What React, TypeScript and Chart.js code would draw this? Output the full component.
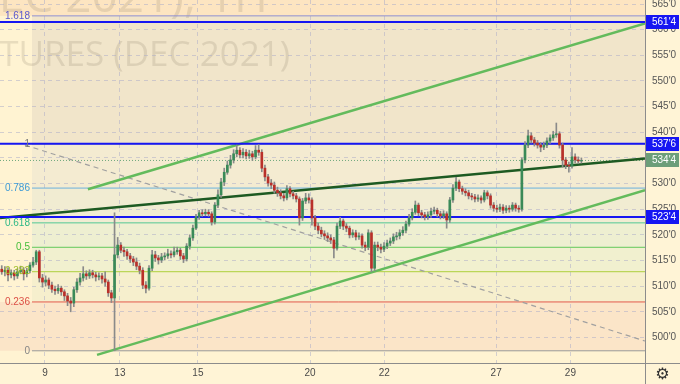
import React, { useEffect, useRef } from "react";
import { Chart, registerables } from "chart.js";

Chart.register(...registerables);

// ---- Candles (1H bars, CBOT corn Dec 2021) ----
const opens = [
  513.3, 512.8, 513.1, 512.2, 512.6, 512.0, 512.8, 513.1, 512.4, 513.0,
  514.1, 514.7, 516.7, 511.6, 510.8, 511.2, 510.2, 509.4, 509.1, 509.6,
  508.9, 508.1, 507.1, 506.7, 509.3, 510.8, 511.6, 512.4, 512.0, 512.6,
  512.2, 511.8, 512.0, 511.4, 510.8, 508.7, 507.7, 516.1, 518.0, 517.0,
  516.7, 515.9, 515.3, 514.7, 513.9, 513.1, 510.2, 509.6, 513.5, 516.1,
  515.5, 515.1, 515.7, 515.9, 516.3, 516.1, 516.7, 517.0, 515.9, 515.3,
  517.8, 519.4, 521.3, 523.5, 524.3, 524.1, 524.4, 524.1, 522.5, 525.8,
  527.8, 530.3, 532.2, 533.6, 534.6, 535.8, 536.5, 535.6, 536.1, 535.4,
  535.8, 535.2, 536.5, 536.1, 533.0, 531.3, 530.1, 529.7, 528.7, 528.2,
  527.6, 527.2, 529.0, 528.0, 527.6, 527.0, 523.3, 526.6, 527.2, 526.8,
  523.3, 521.7, 520.9, 520.2, 519.8, 519.4, 519.0, 517.4, 521.7, 522.7,
  521.7, 521.3, 520.0, 520.4, 519.6, 519.8, 518.0, 517.6, 520.4, 513.5,
  518.0, 517.6, 517.2, 517.8, 518.4, 518.8, 519.6, 519.8, 520.4, 520.9,
  522.1, 523.3, 524.4, 525.8, 524.3, 523.9, 523.5, 523.9, 524.6, 524.8,
  524.1, 523.7, 524.1, 522.9, 526.8, 529.1, 530.3, 529.0, 528.5, 528.2,
  527.6, 527.4, 527.0, 527.2, 526.8, 528.2, 527.6, 525.8, 525.2, 525.0,
  525.4, 524.8, 525.2, 525.0, 525.8, 525.2, 525.0, 534.6, 537.5, 539.3,
  538.5, 537.9, 537.5, 537.1, 537.5, 538.3, 538.9, 539.5, 539.7, 537.5,
  534.6, 533.6, 533.4, 535.2, 534.6, 534.4,
];
const closes = [
  512.8, 513.1, 512.2, 512.6, 512.0, 512.8, 513.1, 512.4, 513.0, 514.1,
  514.7, 516.7, 511.6, 510.8, 511.2, 510.2, 509.4, 509.1, 509.6, 508.9,
  508.1, 507.1, 506.7, 509.3, 510.8, 511.6, 512.4, 512.0, 512.6, 512.2,
  511.8, 512.0, 511.4, 510.8, 508.7, 507.7, 516.1, 518.0, 517.0, 516.7,
  515.9, 515.3, 514.7, 513.9, 513.1, 510.2, 509.6, 513.5, 516.1, 515.5,
  515.1, 515.7, 515.9, 516.3, 516.1, 516.7, 517.0, 515.9, 515.3, 517.8,
  519.4, 521.3, 523.5, 524.3, 524.1, 524.4, 524.1, 522.5, 525.8, 527.8,
  530.3, 532.2, 533.6, 534.6, 535.8, 536.5, 535.6, 536.1, 535.4, 535.8,
  535.2, 536.5, 536.1, 533.0, 531.3, 530.1, 529.7, 528.7, 528.2, 527.6,
  527.2, 529.0, 528.0, 527.6, 527.0, 523.3, 526.6, 527.2, 526.8, 523.3,
  521.7, 520.9, 520.2, 519.8, 519.4, 519.0, 517.4, 521.7, 522.7, 521.7,
  521.3, 520.0, 520.4, 519.6, 519.8, 518.0, 517.6, 520.4, 513.5, 518.0,
  517.6, 517.2, 517.8, 518.4, 518.8, 519.6, 519.8, 520.4, 520.9, 522.1,
  523.3, 524.4, 525.8, 524.3, 523.9, 523.5, 523.9, 524.6, 524.8, 524.1,
  523.7, 524.1, 522.9, 526.8, 529.1, 530.3, 529.0, 528.5, 528.2, 527.6,
  527.4, 527.0, 527.2, 526.8, 528.2, 527.6, 525.8, 525.2, 525.0, 525.4,
  524.8, 525.2, 525.0, 525.8, 525.2, 525.0, 534.6, 537.5, 539.3, 538.5,
  537.9, 537.5, 537.1, 537.5, 538.3, 538.9, 539.5, 539.7, 537.5, 534.6,
  533.6, 533.4, 535.2, 534.6, 534.4, 534.5,
];
const highs = [
  514.0, 513.8, 513.6, 513.2, 513.1, 513.4, 513.9, 513.6, 513.5, 514.6,
  515.6, 517.0, 517.0, 512.3, 512.0, 511.6, 510.8, 510.0, 510.3, 510.0,
  509.3, 508.6, 507.8, 509.8, 511.5, 512.5, 513.8, 513.0, 513.2, 513.1,
  512.7, 512.6, 512.5, 512.8, 511.2, 509.2, 524.3, 519.5, 518.5, 517.6,
  517.2, 516.4, 515.8, 515.5, 514.5, 513.6, 510.9, 514.0, 517.0, 516.8,
  516.0, 516.4, 516.5, 517.2, 516.9, 517.6, 517.6, 517.4, 516.4, 518.3,
  520.0, 521.9, 524.0, 524.8, 524.9, 525.0, 524.9, 524.5, 526.3, 528.8,
  531.0, 533.0, 534.4, 535.5, 536.6, 537.5, 537.0, 536.8, 536.6, 536.5,
  536.3, 537.4, 537.6, 536.6, 533.6, 531.8, 530.8, 530.3, 529.3, 528.8,
  528.1, 529.6, 529.4, 528.5, 528.1, 527.4, 527.1, 528.1, 528.0, 527.2,
  523.8, 522.3, 521.5, 520.8, 520.4, 520.0, 519.5, 522.3, 523.4, 523.1,
  522.2, 521.7, 521.0, 520.9, 520.4, 520.2, 518.6, 521.0, 520.8, 518.6,
  518.6, 518.2, 518.5, 519.0, 519.4, 520.2, 520.5, 521.0, 521.6, 522.7,
  524.0, 525.1, 526.6, 526.2, 524.8, 524.4, 524.5, 525.2, 525.4, 525.2,
  524.6, 524.7, 524.5, 527.3, 529.8, 531.2, 530.7, 529.5, 529.0, 528.7,
  528.1, 527.9, 527.8, 527.6, 528.7, 528.6, 528.0, 526.3, 525.8, 526.0,
  525.9, 525.7, 525.7, 526.3, 526.2, 525.7, 535.0, 538.2, 540.4, 539.9,
  539.0, 538.4, 538.0, 538.1, 538.9, 539.5, 540.2, 541.8, 540.1, 537.9,
  535.1, 534.2, 537.0, 535.8, 535.2, 535.0,
];
const lows = [
  512.3, 512.0, 511.0, 511.6, 511.2, 511.5, 512.4, 511.2, 511.8, 512.6,
  513.7, 514.2, 510.8, 509.8, 510.0, 509.5, 508.8, 508.4, 508.6, 508.2,
  507.2, 506.2, 505.0, 506.0, 508.8, 510.2, 511.0, 511.3, 511.5, 511.6,
  511.0, 511.2, 510.6, 510.0, 508.0, 506.8, 497.4, 515.5, 516.5, 515.8,
  515.2, 514.6, 514.0, 513.2, 512.4, 509.5, 508.7, 509.2, 513.0, 514.8,
  514.3, 514.6, 515.1, 515.4, 515.5, 515.7, 516.2, 515.2, 514.6, 514.9,
  517.2, 518.9, 521.0, 523.0, 523.6, 523.7, 523.6, 521.9, 522.1, 525.3,
  527.3, 529.6, 531.8, 533.0, 534.0, 535.2, 535.0, 535.0, 534.8, 534.9,
  534.5, 534.8, 535.5, 532.3, 530.5, 529.5, 529.0, 528.1, 527.5, 527.0,
  526.6, 526.8, 527.4, 527.0, 526.4, 521.9, 522.8, 526.1, 526.2, 521.9,
  521.0, 520.2, 519.6, 519.1, 518.7, 518.3, 515.5, 517.0, 521.2, 521.0,
  520.6, 519.4, 519.5, 519.0, 519.1, 517.4, 516.9, 517.1, 512.8, 513.0,
  516.9, 516.5, 516.7, 517.3, 517.9, 518.3, 519.0, 519.2, 519.9, 520.4,
  521.7, 522.9, 524.0, 523.7, 523.3, 522.9, 523.0, 523.4, 524.1, 523.5,
  523.1, 523.2, 521.3, 522.4, 526.3, 528.6, 528.4, 527.9, 527.6, 527.0,
  526.8, 526.4, 526.5, 526.2, 526.4, 527.0, 525.2, 524.6, 524.4, 524.5,
  524.2, 524.3, 524.4, 524.6, 524.6, 524.4, 524.6, 534.0, 537.0, 537.9,
  537.3, 536.9, 536.2, 536.6, 537.0, 537.8, 538.4, 539.0, 536.9, 533.2,
  532.9, 532.2, 533.0, 534.0, 533.9, 534.0,
];

// ---- Axes ----
const dayLabels = ["9", "13", "15", "20", "22", "27", "29"];
const dayStartBars = [13.8, 37.7, 62.6, 98.4, 122.1, 157.8, 181.5];
const yTickValues = [500, 505, 510, 515, 520, 525, 530, 535, 540, 545, 550, 555, 560, 565];

// ---- Fibonacci retracement ----
const fibLevels = [1.618, 1, 0.786, 0.618, 0.5, 0.382, 0.236, 0];
const fibLabels = ["1.618", "1", "0.786", "0.618", "0.5", "0.382", "0.236", "0"];
const fibLow = 497.4;
const fibHigh = 537.75;
const fibStartBar = 9.65;

// ---- Horizontal levels ----
const blueLevels = [561.5, 537.75, 523.5];
const lastPrice = 534.5;

// ---- Trend lines [bar, price] ----
const upperChannel = [[27.5, 528.9], [205.3, 561.2]];
const lowerChannel = [[30.4, 496.6], [205.3, 528.7]];
const midTrend = [[-0.56, 523.3], [205.3, 534.9]];
const dashedDiag = [[7.4, 537.5], [205.3, 499.3]];

// ---- Styles ----
const fibLineColors = ["#8f8fd2", "#8a8a8a", "#6ab2de", "#52c794", "#62c95a", "#adcf3c", "#e3594c", "#9a9a9a"];
const fibTextColors = ["#5858cf", "#7a7a7a", "#3f9bd6", "#2eb886", "#45bd3a", "#9fbf28", "#dc4f45", "#858585"];
const zoneColors = ["#fde5c1", "#f1e5ca", "#f4ebd1", "#f1ecd2", "#eeefd1", "#f1f0cf", "#f6efcd", "#fbe5c8"];
const UP = "#3a8a58";
const DOWN = "#b9302a";
const BLUE = "#1616f2";
const FONT = "'Liberation Sans', Arial, sans-serif";

const X_MIN = -0.56;
const X_MAX = 205.3;
const Y_MIN = 495.02;
const Y_MAX = 565.78;

const fmtPrice = (v: number) => {
  const whole = Math.floor(v + 1e-9);
  const eighths = Math.round((v - whole) * 8);
  return `${whole}'${eighths}`;
};
const fibPrice = (l: number) => fibLow + (fibHigh - fibLow) * l;

export default function App() {
  const ref = useRef<HTMLCanvasElement>(null);

  useEffect(() => {
    document.body.style.margin = "0";
    const canvas = ref.current!;

    const seg = (pts: number[][]) => pts.map(([x, y]) => ({ x, y }));
    const hline = (p: number, x0 = X_MIN, x1 = X_MAX) => [{ x: x0, y: p }, { x: x1, y: p }];

    const bodyData = closes.map((c, i) => ({ x: i, y: [opens[i], c] }));
    const wickData = closes.map((_, i) => ({ x: i, y: [lows[i], highs[i]] }));
    const bodyColors = closes.map((c, i) => (c >= opens[i] ? UP : DOWN));

    const lineBase = { type: "line", pointRadius: 0, tension: 0, fill: false, borderCapStyle: "butt" };

    const datasets: any[] = [
      { type: "bar", data: bodyData, backgroundColor: bodyColors, barThickness: 2, grouped: false, order: 0, borderWidth: 0 },
      { type: "bar", data: wickData, backgroundColor: "#8a8a8a", barThickness: 1, grouped: false, order: 1, borderWidth: 0 },
      ...blueLevels.map((p) => ({ ...lineBase, data: hline(p), borderColor: BLUE, borderWidth: 2, order: 3 })),
      { ...lineBase, data: seg(midTrend), borderColor: "#1d5a22", borderWidth: 2.5, order: 4 },
      { ...lineBase, data: seg(upperChannel), borderColor: "#63bb5c", borderWidth: 2.5, order: 4 },
      { ...lineBase, data: seg(lowerChannel), borderColor: "#63bb5c", borderWidth: 2.5, order: 4 },
      { ...lineBase, data: hline(lastPrice), borderColor: "#6fa87e", borderWidth: 1, borderDash: [1, 2], order: 5 },
      { ...lineBase, data: seg(dashedDiag), borderColor: "#a0a0a0", borderWidth: 1.2, borderDash: [5, 4], order: 6 },
      ...fibLevels.map((l, i) => ({
        ...lineBase,
        data: hline(fibPrice(l), fibStartBar, X_MAX),
        borderColor: fibLineColors[i],
        borderWidth: 1,
        order: 7,
      })),
    ];

    const bgPlugin = {
      id: "bgzones",
      beforeDraw(chart: any) {
        const { ctx, chartArea: a, scales } = chart;
        const x = scales.x;
        const y = scales.y;
        ctx.save();
        ctx.fillStyle = "#fff4d6";
        ctx.fillRect(0, 0, chart.width, chart.height);
        ctx.fillStyle = "#fff3d2";
        ctx.fillRect(a.left, a.top, a.width, a.height);
        const xs = x.getPixelForValue(fibStartBar);
        const bounds = [a.top, ...fibLevels.map((l) => y.getPixelForValue(fibPrice(l)))];
        for (let i = 0; i < zoneColors.length; i++) {
          const full = i === 0 || i === zoneColors.length - 1;
          const x0 = full ? a.left : xs;
          ctx.fillStyle = zoneColors[i];
          ctx.fillRect(x0, bounds[i], a.right - x0, bounds[i + 1] - bounds[i]);
        }
        // watermark
        ctx.beginPath();
        ctx.rect(a.left, a.top, a.width, a.height);
        ctx.clip();
        ctx.fillStyle = "rgba(110,100,80,0.16)";
        ctx.textAlign = "right";
        ctx.textBaseline = "alphabetic";
        ctx.font = "46px 'Open Sans', sans-serif";
        ctx.fillText("CORN (DEC 2021), 1H", 268, 12);
        ctx.font = "35px 'Open Sans', sans-serif";
        ctx.fillText("CORN FUTURES (DEC 2021)", 290, 66);
        ctx.restore();
      },
      afterDraw(chart: any) {
        const { ctx, chartArea: a, scales } = chart;
        const x = scales.x;
        const y = scales.y;
        ctx.save();
        // fib labels
        const xs = x.getPixelForValue(fibStartBar);
        ctx.font = `10px ${FONT}`;
        ctx.textAlign = "right";
        ctx.textBaseline = "middle";
        fibLevels.forEach((l, i) => {
          ctx.fillStyle = fibTextColors[i];
          ctx.fillText(fibLabels[i], xs - 2, y.getPixelForValue(fibPrice(l)));
        });
        // separators
        ctx.strokeStyle = "#8c8c8c";
        ctx.lineWidth = 1;
        ctx.beginPath();
        ctx.moveTo(a.right + 0.5, a.bottom);
        ctx.lineTo(a.right + 0.5, chart.height);
        ctx.moveTo(a.right, a.bottom + 0.5);
        ctx.lineTo(chart.width, a.bottom + 0.5);
        ctx.stroke();
        // price boxes
        const box = (p: number, color: string) => {
          const py = y.getPixelForValue(p);
          ctx.fillStyle = color;
          ctx.fillRect(a.right + 1, Math.round(py) - 7, chart.width - a.right - 2, 14);
          ctx.fillStyle = "#ffffff";
          ctx.textAlign = "left";
          ctx.textBaseline = "middle";
          ctx.font = `10px ${FONT}`;
          ctx.fillText(fmtPrice(p), a.right + 7, Math.round(py) + 0.5);
        };
        blueLevels.forEach((p) => box(p, BLUE));
        box(lastPrice, "#6c9e79");
        // gear
        ctx.fillStyle = "#333333";
        ctx.textAlign = "center";
        ctx.textBaseline = "middle";
        ctx.font = "16px 'DejaVu Sans', sans-serif";
        ctx.fillText("\u2699", (a.right + chart.width) / 2, (a.bottom + chart.height) / 2 + 1);
        ctx.restore();
      },
    };

    const chart = new Chart(canvas, {
      type: "bar",
      data: { datasets },
      options: {
        responsive: false,
        animation: false,
        events: [],
        layout: { padding: 0 },
        plugins: { legend: { display: false }, tooltip: { enabled: false } },
        scales: {
          x: {
            type: "linear",
            min: X_MIN,
            max: X_MAX,
            offset: false,
            grid: { color: "rgba(175,175,200,0.55)", drawTicks: false, offset: false },
            border: { display: true, color: "#8c8c8c", dash: [4, 4] },
            ticks: {
              autoSkip: false,
              maxRotation: 0,
              padding: 4,
              color: "#4a4a4a",
              font: { size: 10, family: FONT },
              callback: (_v: any, i: number) => dayLabels[i],
            },
            afterBuildTicks: (s: any) => {
              s.ticks = dayStartBars.map((v) => ({ value: v }));
            },
            afterFit: (s: any) => {
              s.height = 21;
              s.paddingLeft = 0;
              s.paddingRight = 0;
            },
          },
          y: {
            type: "linear",
            position: "right",
            min: Y_MIN,
            max: Y_MAX,
            grid: { color: "rgba(175,175,200,0.55)", drawTicks: false },
            border: { display: true, color: "#8c8c8c", dash: [4, 4] },
            ticks: {
              padding: 7,
              color: "#555555",
              font: { size: 10, family: FONT },
              callback: (v: any) => fmtPrice(Number(v)),
            },
            afterBuildTicks: (s: any) => {
              s.ticks = yTickValues.map((v) => ({ value: v }));
            },
            afterFit: (s: any) => {
              s.width = 35;
              s.paddingTop = 0;
              s.paddingBottom = 0;
            },
          },
        },
      } as any,
      plugins: [bgPlugin],
    } as any);

    return () => chart.destroy();
  }, []);

  return <canvas ref={ref} width={680} height={384} style={{ display: "block", width: 680, height: 384 }} />;
}
